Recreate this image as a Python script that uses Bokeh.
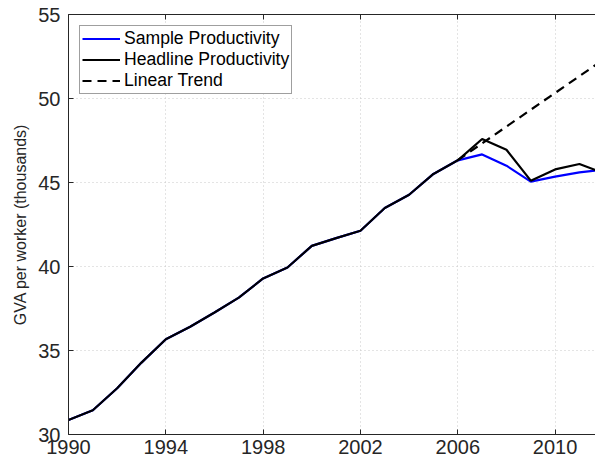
from bokeh.plotting import figure
from bokeh.models import LinearAxis, FixedTicker, Legend, LegendItem
from bokeh.embed import file_html
from bokeh.resources import INLINE

years = list(range(1990, 2013))
headline = [30.86, 31.44, 32.75, 34.28, 35.67, 36.41, 37.26, 38.15, 39.29, 39.94,
            41.23, 41.69, 42.13, 43.48, 44.27, 45.51, 46.32, 47.59, 46.95, 45.11,
            45.78, 46.10, 45.55]
sample = [30.86, 31.44, 32.75, 34.28, 35.67, 36.41, 37.26, 38.15, 39.29, 39.94,
          41.23, 41.69, 42.13, 43.48, 44.27, 45.51, 46.32, 46.67, 46.00, 45.05,
          45.35, 45.60, 45.76]
trend_years = [2006, 2007, 2008, 2009, 2010, 2011, 2012]
trend = [46.33, 47.33, 48.33, 49.33, 50.33, 51.33, 52.33]
x_ticks = [1990, 1994, 1998, 2002, 2006, 2010]
y_ticks = [30, 35, 40, 45, 50, 55]
y_label = "GVA per worker (thousands)"
legend_labels = ["Sample Productivity", "Headline Productivity", "Linear Trend"]

FONT = "Liberation Sans"
AX = "#262626"

p = figure(width=595, height=465, x_range=(1990, 2011.66), y_range=(30, 55),
           output_backend="svg", toolbar_location=None,
           min_border_left=68, min_border_right=0, min_border_top=14, min_border_bottom=31)
p.outline_line_color = None
p.background_fill_color = "white"

for ax in (p.xaxis[0], p.yaxis[0]):
    ax.major_tick_in = 5
    ax.major_tick_out = 0
    ax.minor_tick_line_color = None
    ax.axis_line_color = AX
    ax.major_tick_line_color = AX
    ax.major_label_text_color = AX
    ax.major_label_text_font = FONT
    ax.major_label_text_font_size = "20px"

p.xaxis[0].ticker = FixedTicker(ticks=x_ticks)
p.yaxis[0].ticker = FixedTicker(ticks=y_ticks)
p.xaxis[0].major_label_standoff = 5
p.yaxis[0].major_label_standoff = 8
p.yaxis[0].axis_label = y_label
p.yaxis[0].axis_label_text_font = FONT
p.yaxis[0].axis_label_text_font_size = "16px"
p.yaxis[0].axis_label_text_font_style = "normal"
p.yaxis[0].axis_label_text_color = AX
p.yaxis[0].axis_label_standoff = 6

top = LinearAxis(ticker=FixedTicker(ticks=x_ticks))
top.major_tick_in = 5
top.major_tick_out = 0
top.minor_tick_line_color = None
top.axis_line_color = AX
top.major_tick_line_color = AX
top.major_label_text_color = None
top.major_label_standoff = 0
p.add_layout(top, "above")

for g in (p.xgrid[0], p.ygrid[0]):
    g.grid_line_color = "#c8c8c8"
    g.grid_line_dash = "1 3"
    g.grid_line_width = 1
p.xgrid[0].ticker = FixedTicker(ticks=x_ticks)
p.ygrid[0].ticker = FixedTicker(ticks=y_ticks)

r_s = p.line(years, sample, line_color="#0000ff", line_width=2.2)
r_h = p.line(years, headline, line_color="black", line_width=2.2)
r_t = p.line(trend_years, trend, line_color="black", line_width=2.2, line_dash="9 6")

legend = Legend(items=[LegendItem(label=legend_labels[0], renderers=[r_s]),
                       LegendItem(label=legend_labels[1], renderers=[r_h]),
                       LegendItem(label=legend_labels[2], renderers=[r_t])],
                location="top_left", margin=11, padding=2, spacing=-1,
                label_text_font=FONT, label_text_font_size="17.6px",
                label_text_color="black", label_height=19, glyph_height=19,
                glyph_width=38, label_standoff=4,
                border_line_color="#404040", border_line_width=1,
                background_fill_alpha=1)
p.add_layout(legend)

open("out.html", "w").write(file_html(p, INLINE))
